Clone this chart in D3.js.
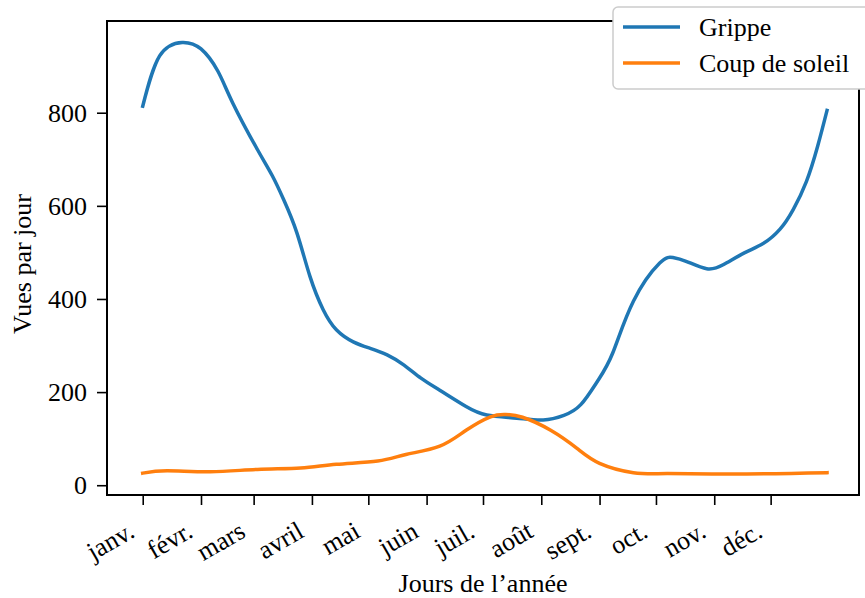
<!DOCTYPE html>
<html>
<head>
<meta charset="utf-8">
<script src="https://cdn.jsdelivr.net/npm/d3@7"></script>
<style>
  body { margin: 0; background: #fff; }
  text { font-family: "Liberation Serif", "Times New Roman", serif; fill: #000; }
</style>
</head>
<body>
<script>
// values (day of year -> views per day)
var grippeDays = [0, 9, 21, 31, 40, 48, 61, 69, 75, 82, 89, 96, 103, 112, 121, 130, 139, 148, 158, 172, 183, 199, 213, 224, 233, 242, 250, 261, 275, 282, 289, 300, 309, 320, 330, 339, 346, 353, 359, 364];
var grippeViews = [814, 922, 951, 937, 889, 820, 721, 664, 613, 542, 448, 377, 334, 308, 294, 280, 258, 230, 204, 169, 151, 144, 140, 150, 173, 224, 284, 395, 477, 489, 481, 465, 474, 499, 519, 550, 592, 652, 728, 805];

var soleilDays = [0, 13, 36, 61, 84, 103, 125, 140, 158, 172, 185, 193, 202, 217, 231, 243, 261, 279, 314, 364];
var soleilViews = [26, 31, 29, 34, 37, 45, 52, 66, 84, 118, 147, 152, 146, 118, 79, 47, 27, 25, 24, 27];

var monthStarts = [0, 31, 59, 90, 120, 151, 181, 212, 243, 273, 304, 334];
var monthLabels = ["janv.", "févr.", "mars", "avril", "mai", "juin", "juil.", "août", "sept.", "oct.", "nov.", "déc."];
var yTicks = [0, 200, 400, 600, 800];
var seriesNames = ["Grippe", "Coup de soleil"];
var seriesColors = ["#1f77b4", "#ff7f0e"];

var W = 865, H = 598;
var plotL = 107, plotR = 859, plotT = 21, plotB = 495;
var fs = 26;

var x = d3.scaleLinear().domain([-19, 381]).range([plotL, plotR]);
var y = d3.scaleLinear().domain([-21, 997]).range([plotB, plotT]);

var svg = d3.select("body").append("svg")
	.attr("width", W)
	.attr("height", H);

var series = [
	{ name: seriesNames[0], color: seriesColors[0], pts: d3.zip(grippeDays, grippeViews) },
	{ name: seriesNames[1], color: seriesColors[1], pts: d3.zip(soleilDays, soleilViews) }
];

var line = d3.line()
	.x(function(d) { return x(d[0]); })
	.y(function(d) { return y(d[1]); })
	.curve(d3.curveNatural);

svg.selectAll(".series").data(series).enter().append("path")
	.attr("class", "series")
	.attr("fill", "none")
	.attr("stroke", function(d) { return d.color; })
	.attr("stroke-width", 3.5)
	.attr("stroke-linecap", "square")
	.attr("d", function(d) { return line(d.pts); });

// x axis
var xAxis = d3.axisBottom(x)
	.tickValues(monthStarts)
	.tickSize(10)
	.tickPadding(0)
	.tickFormat(function(d, i) { return monthLabels[i]; });

var gx = svg.append("g")
	.attr("transform", "translate(0," + plotB + ")")
	.call(xAxis);
gx.select(".domain").remove();
gx.selectAll(".tick line").attr("stroke", "#000").attr("stroke-width", 1.6);
gx.selectAll(".tick text")
	.attr("font-size", fs)
	.attr("font-family", "Liberation Serif")
	.attr("text-anchor", "end")
	.attr("y", null)
	.attr("dy", null)
	.attr("transform", "translate(-7,41) rotate(-30)");

// y axis
var yAxis = d3.axisLeft(y)
	.tickValues(yTicks)
	.tickSize(10)
	.tickPadding(10)
	.tickFormat(d3.format("d"));

var gy = svg.append("g")
	.attr("transform", "translate(" + plotL + ",0)")
	.call(yAxis);
gy.select(".domain").remove();
gy.selectAll(".tick line").attr("stroke", "#000").attr("stroke-width", 1.6);
gy.selectAll(".tick text")
	.attr("font-size", fs)
	.attr("font-family", "Liberation Serif")
	.attr("dy", "0.33em");

// frame
svg.append("rect")
	.attr("x", plotL)
	.attr("y", plotT)
	.attr("width", plotR - plotL)
	.attr("height", plotB - plotT)
	.attr("fill", "none")
	.attr("stroke", "#000")
	.attr("stroke-width", 2);

// axis labels
svg.append("text")
	.attr("x", (plotL + plotR) / 2)
	.attr("y", 592)
	.attr("text-anchor", "middle")
	.attr("font-size", fs)
	.text("Jours de l’année");

svg.append("text")
	.attr("transform", "translate(31," + ((plotT + plotB) / 2 + 6) + ") rotate(-90)")
	.attr("text-anchor", "middle")
	.attr("font-size", fs)
	.text("Vues par jour");

// legend
var legend = svg.append("g").attr("transform", "translate(613,7)");
legend.append("rect")
	.attr("width", 262)
	.attr("height", 82)
	.attr("rx", 5)
	.attr("fill", "#fff")
	.attr("stroke", "#cccccc")
	.attr("stroke-width", 1.5);

var item = legend.selectAll(".item").data(series).enter().append("g")
	.attr("class", "item")
	.attr("transform", function(d, i) { return "translate(0," + (20 + i * 36) + ")"; });
item.append("line")
	.attr("x1", 10)
	.attr("x2", 67)
	.attr("stroke", function(d) { return d.color; })
	.attr("stroke-width", 3.5);
item.append("text")
	.attr("x", 86)
	.attr("dy", "0.34em")
	.attr("font-size", fs)
	.text(function(d) { return d.name; });
</script>
</body>
</html>
